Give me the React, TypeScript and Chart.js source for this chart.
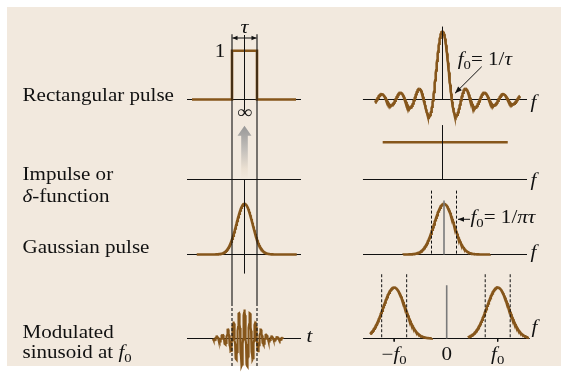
import React, { useEffect, useRef } from "react";
import { Chart, registerables } from "chart.js";
Chart.register(...registerables);

const W = 561;
const H = 374;

// ---------------- data ----------------
// time axis in units of τ, frequency axes in units of f0
const rectPulseT = [-2.1, -0.5, -0.5, 0.5, 0.5, 2.06];
const rectPulseA = [0, 0, 1, 1, 0, 0];
const sincRangeF = [-7.2, 8.28];
const sincTailBoost = 0.03;
const flatSpectrumF = [-6.39, 6.97];
const flatSpectrumA = [1, 1];
const gaussTimeRange = [-1.91, 2.09];
const gaussTimeSigma = 0.32;
const gaussSpecRange = [-3.26, 3.68];
const gaussSpecSigma = 0.78;
const gaussSpecDash = [-1, 1];
const modTimeRange = [-1.26, 1.54];
const modEnvSigma = 0.41;
const modCarrierCycles = 4.55;
const modEnvFloor = 0.045;
const modSpecCenters = [-1.03, 1.0];
const modSpecSigma = 0.215;
const modSpecRanges = [
  [-1.5, -0.29],
  [0.42, 1.6],
];
const modSpecDashHalf = 0.245;
const timeAxisExtent = [-2.3, 2.26];
const freqAxisExtent = { R1: [-8.5, 9.03], R2: [-8.5, 9.03], R3: [-6.48, 6.64], R4: [-1.64, 1.63] };
const rowLabels = [
  ["Rectangular pulse"],
  ["Impulse or", "δ-function"],
  ["Gaussian pulse"],
  ["Modulated", "sinusoid at f0"],
];
const tickLabels = ["−f0", "0", "f0"];

// ---------------- layout ----------------
const PANELS: Record<string, { ox: number; sx: number; oy: number; sy: number }> = {
  L1: { ox: 244.5, sx: 25, oy: 99.5, sy: 48.8 },
  L2: { ox: 244.5, sx: 25, oy: 179.5, sy: 48.8 },
  L3: { ox: 244.5, sx: 25, oy: 254.5, sy: 50.7 },
  L4: { ox: 244.5, sx: 25, oy: 338.5, sy: 29 },
  R1: { ox: 442.5, sx: 9.36, oy: 99.5, sy: 67.6 },
  R2: { ox: 442.5, sx: 9.36, oy: 179.5, sy: 37.3 },
  R3: { ox: 444, sx: 12.5, oy: 254.5, sy: 50.7 },
  R4: { ox: 446.7, sx: 51, oy: 338.5, sy: 51 },
};

const BROWN = "#86561b";
const INK = "#111111";
const GRAY = "#7a7a7a";
const BEIGE = "#f2e9de";
const FONT = '"Liberation Serif", "Times New Roman", serif';
const HSCALE = 1.17;

function gauss(x: number, s: number) {
  return Math.exp(-(x * x) / (2 * s * s));
}
function sample(range: number[], n: number, fn: (x: number) => number) {
  const pts: { x: number; y: number }[] = [];
  for (let i = 0; i <= n; i++) {
    const x = range[0] + ((range[1] - range[0]) * i) / n;
    pts.push({ x, y: fn(x) });
  }
  return pts;
}

type Piece = { s: string; it?: boolean; sub?: boolean };
function parseMath(str: string): Piece[] {
  const out: Piece[] = [];
  let i = 0;
  while (i < str.length) {
    const c = str[i];
    if (c === "f" && str[i + 1] === "0") {
      out.push({ s: "f", it: true });
      out.push({ s: "0", sub: true });
      i += 2;
    } else if ("τπδ".includes(c)) {
      out.push({ s: c, it: true });
      i++;
    } else {
      let j = i;
      let s = "";
      while (j < str.length && !(str[j] === "f" && str[j + 1] === "0") && !"τπδ".includes(str[j])) {
        s += str[j];
        j++;
      }
      out.push({ s });
      i = j;
    }
  }
  return out;
}

function drawRich(ctx: CanvasRenderingContext2D, str: string, x: number, y: number, align: "left" | "center" = "left", size = 18, italicAll = false) {
  const pieces = parseMath(str);
  const fontOf = (p: Piece) => `${p.it || italicAll ? "italic " : ""}${p.sub ? size * 0.7 : size}px ${FONT}`;
  let total = 0;
  for (const p of pieces) {
    ctx.font = fontOf(p);
    total += ctx.measureText(p.s).width;
  }
  ctx.save();
  ctx.translate(x, y);
  ctx.scale(HSCALE, 1);
  ctx.textBaseline = "alphabetic";
  ctx.textAlign = "left";
  ctx.fillStyle = "#111";
  let cx = align === "center" ? -total / 2 : 0;
  for (const p of pieces) {
    ctx.font = fontOf(p);
    ctx.fillText(p.s, cx, p.sub ? size * 0.22 : 0);
    cx += ctx.measureText(p.s).width;
  }
  ctx.restore();
}

function arrowHead(ctx: CanvasRenderingContext2D, x0: number, y0: number, x1: number, y1: number, len: number, half: number) {
  const a = Math.atan2(y1 - y0, x1 - x0);
  ctx.beginPath();
  ctx.moveTo(x1, y1);
  ctx.lineTo(x1 - len * Math.cos(a) + half * Math.sin(a), y1 - len * Math.sin(a) - half * Math.cos(a));
  ctx.lineTo(x1 - len * Math.cos(a) - half * Math.sin(a), y1 - len * Math.sin(a) + half * Math.cos(a));
  ctx.closePath();
  ctx.fill();
}
function arrow(ctx: CanvasRenderingContext2D, x0: number, y0: number, x1: number, y1: number, len = 6, half = 2.5) {
  ctx.beginPath();
  ctx.moveTo(x0, y0);
  ctx.lineTo(x1, y1);
  ctx.stroke();
  arrowHead(ctx, x0, y0, x1, y1, len, half);
}

export default function App() {
  const ref = useRef<HTMLCanvasElement | null>(null);
  useEffect(() => {
    if (!ref.current) return;

    const scales: any = {};
    for (const k of Object.keys(PANELS)) {
      const p = PANELS[k];
      scales["x" + k] = { type: "linear", display: false, min: -p.ox / p.sx, max: (W - p.ox) / p.sx };
      scales["y" + k] = { type: "linear", display: false, min: -(H - p.oy) / p.sy, max: p.oy / p.sy };
    }

    const datasets: any[] = [];
    const add = (pts: { x: number; y: number }[], panel: string, color: string, width: number, order: number, dash: number[] = []) =>
      datasets.push({
        data: pts,
        xAxisID: "x" + panel,
        yAxisID: "y" + panel,
        showLine: true,
        borderColor: color,
        borderWidth: width,
        borderDash: dash,
        pointRadius: 0,
        fill: false,
        tension: 0,
        order,
        borderCapStyle: "butt",
        borderJoinStyle: "miter",
      });
    const seg = (x0: number, y0: number, x1: number, y1: number) => [
      { x: x0, y: y0 },
      { x: x1, y: y1 },
    ];

    // axis baselines
    for (const k of ["L1", "L2", "L3", "L4"]) add(seg(timeAxisExtent[0], 0, timeAxisExtent[1], 0), k, INK, 1, 5);
    for (const k of ["R1", "R2", "R3", "R4"]) {
      const e = (freqAxisExtent as any)[k];
      add(seg(e[0], 0, e[1], 0), k, INK, 1, 5);
    }

    // curves
    add(rectPulseT.map((t, i) => ({ x: t, y: rectPulseA[i] })), "L1", BROWN, 2.6, 3);
    add(
      sample(sincRangeF, 600, (f) => {
        const u = Math.PI * f;
        const s = Math.abs(u) < 1e-9 ? 1 : Math.sin(u) / u;
        return s * (1 + sincTailBoost * Math.abs(u));
      }),
      "R1",
      BROWN,
      2.6,
      3
    );
    add(flatSpectrumF.map((f, i) => ({ x: f, y: flatSpectrumA[i] })), "R2", BROWN, 2.6, 3);
    add(sample(gaussTimeRange, 200, (t) => gauss(t, gaussTimeSigma)), "L3", BROWN, 2.6, 3);
    add(sample(gaussSpecRange, 200, (f) => gauss(f, gaussSpecSigma)), "R3", BROWN, 2.6, 3);
    add(
      sample(modTimeRange, 500, (t) => ((1 - modEnvFloor) * gauss(t, modEnvSigma) + modEnvFloor) * Math.cos(2 * Math.PI * modCarrierCycles * t)),
      "L4",
      BROWN,
      2.2,
      3
    );
    modSpecCenters.forEach((c, i) => add(sample(modSpecRanges[i], 150, (f) => gauss(f - c, modSpecSigma)), "R4", BROWN, 2.6, 3));

    // guide lines (left column)
    add(seg(0, 1.32, 0, -0.22), "L1", INK, 1, 1);
    add(seg(0, 1.48, 0, -0.37), "L3", INK, 1, 1);
    for (const t of [-0.5, 0.5]) {
      add(seg(t, 10.49, t, 1.22), "L4", INK, 1.1, 1);
      add(seg(t, 1.22, t, -1.02), "L4", INK, 1.1, 1, [3, 2]);
    }
    // guide lines (right column)
    add(seg(0, 1.075, 0, 0), "R1", INK, 1, 1);
    add(seg(0, 1.45, 0, 0), "R2", INK, 1, 1);
    add(seg(0, 1.065, 0, 0), "R3", GRAY, 1.6, 1);
    for (const f of gaussSpecDash) add(seg(f, 1.26, f, 0), "R3", INK, 1, 1, [3, 2]);
    add(seg(0, 1.045, 0, 0), "R4", GRAY, 1.6, 1);
    for (const c of modSpecCenters) {
      add(seg(c - modSpecDashHalf, 1.26, c - modSpecDashHalf, 0), "R4", INK, 1, 1, [3, 2]);
      add(seg(c + modSpecDashHalf, 1.26, c + modSpecDashHalf, 0), "R4", INK, 1, 1, [3, 2]);
      add(seg(c, 0, c, -0.06), "R4", INK, 1, 1);
    }

    const bgPlugin = {
      id: "bg",
      beforeDraw(chart: any) {
        const ctx = chart.ctx as CanvasRenderingContext2D;
        ctx.save();
        ctx.fillStyle = "#ffffff";
        ctx.fillRect(0, 0, W, H);
        ctx.fillStyle = BEIGE;
        ctx.fillRect(7, 7, W - 7, 359);
        ctx.restore();
      },
      beforeDatasetsDraw(chart: any) {
        // gray "infinite" impulse arrow
        const ctx = chart.ctx as CanvasRenderingContext2D;
        const xs = chart.scales.xL2;
        const ys = chart.scales.yL2;
        const cx = xs.getPixelForValue(0);
        const yb = ys.getPixelForValue(0);
        const yt = ys.getPixelForValue(1.1);
        const g = ctx.createLinearGradient(0, yt, 0, yb);
        g.addColorStop(0, "#979797");
        g.addColorStop(0.45, "#c4c0bb");
        g.addColorStop(0.8, "#ebe0d2");
        g.addColorStop(1, BEIGE);
        ctx.save();
        ctx.fillStyle = g;
        ctx.beginPath();
        ctx.moveTo(cx, yt);
        ctx.lineTo(cx + 7, yt + 10);
        ctx.lineTo(cx + 3.3, yt + 10);
        ctx.lineTo(cx + 3.3, yb);
        ctx.lineTo(cx - 3.3, yb);
        ctx.lineTo(cx - 3.3, yt + 10);
        ctx.lineTo(cx - 7, yt + 10);
        ctx.closePath();
        ctx.fill();
        ctx.restore();
      },
      afterDraw(chart: any) {
        const ctx = chart.ctx as CanvasRenderingContext2D;
        ctx.save();
        const base = [[100.7], [180, 201.7], [253], [338, 358.3]];
        rowLabels.forEach((lines, r) => lines.forEach((s, j) => drawRich(ctx, s, 22.5, base[r][j])));
        const xL = chart.scales.xL1;
        const c0 = xL.getPixelForValue(0);
        const lft = xL.getPixelForValue(-0.5);
        const rgt = xL.getPixelForValue(0.5);
        drawRich(ctx, "τ", c0, 32.5, "center", 19);
        drawRich(ctx, "1", 220, 56.8, "center");
        drawRich(ctx, "∞", c0, 118, "center");
        ctx.strokeStyle = INK;
        ctx.fillStyle = INK;
        ctx.lineWidth = 1;
        arrow(ctx, c0, 38, lft + 0.5, 38, 5, 2.2);
        arrow(ctx, c0, 38, rgt - 0.5, 38, 5, 2.2);
        drawRich(ctx, "t", 306.5, 341.7, "left", 18, true);
        drawRich(ctx, "f0= 1/τ", 457.7, 65);
        arrow(ctx, 481.7, 66.7, 455, 93.3, 7, 2.6);
        drawRich(ctx, "f0= 1/πτ", 470.5, 223.3);
        arrow(ctx, 470, 219.3, 458, 219.3, 6, 2.4);
        for (const y of [107.5, 185.5, 257.5]) drawRich(ctx, "f", 530.5, y, "left", 18, true);
        drawRich(ctx, "f", 531.5, 332.5, "left", 18, true);
        const xR4 = chart.scales.xR4;
        const tickPos = [modSpecCenters[0], 0, modSpecCenters[1]];
        tickLabels.forEach((s, i) => drawRich(ctx, s, xR4.getPixelForValue(tickPos[i]), 360, "center"));
        ctx.restore();
      },
    };

    const chart = new Chart(ref.current, {
      type: "scatter",
      data: { datasets },
      options: {
        animation: false,
        responsive: false,
        devicePixelRatio: 1,
        events: [],
        layout: { padding: 0 },
        plugins: { legend: { display: false }, tooltip: { enabled: false }, title: { display: false } },
        scales,
      },
      plugins: [bgPlugin],
    } as any);
    return () => chart.destroy();
  }, []);

  return (
    <div style={{ position: "fixed", left: 0, top: 0, width: W, height: H }}>
      <canvas ref={ref} width={W} height={H} style={{ width: W, height: H, display: "block" }} />
    </div>
  );
}
